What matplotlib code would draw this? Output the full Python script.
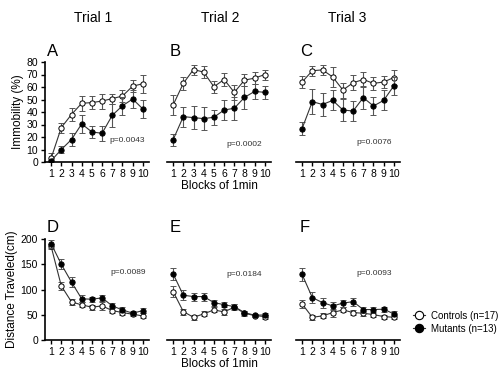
import numpy as np
import matplotlib
matplotlib.use("Agg")
import matplotlib.pyplot as plt
from matplotlib.lines import Line2D

plt.rcParams['font.family'] = ['Liberation Sans', 'DejaVu Sans']

blocks = np.arange(1, 11)

# Immobility (%) -- trials 1..3
imm_ctrl = [[3, 27.6, 38, 47, 47.5, 48.8, 50.7, 52.8, 60.7, 62.6],
            [45.6, 62.9, 74, 71.9, 60.2, 66, 55.7, 65.5, 67.1, 70],
            [64, 73, 73.7, 68, 57.6, 63.4, 66, 62.9, 64, 67.6]]
imm_ctrl_err = [[4, 4, 5, 6, 5, 6, 4, 5, 5, 7],
                [8, 5, 4, 5, 5, 5, 6, 5, 5, 4],
                [5, 4, 4, 8, 6, 6, 6, 5, 5, 6]]
imm_mut = [[1, 10, 18, 30.5, 24, 23, 37.4, 45, 50.4, 42.4],
           [17.8, 36.3, 35.5, 34.7, 35.8, 41.6, 43, 51.7, 56.5, 55.7],
           [26.8, 48.3, 46, 49.3, 41.6, 40.8, 51.5, 44.8, 49.3, 61]]
imm_mut_err = [[1, 3, 5, 7, 5, 6, 9, 7, 7, 7],
               [5, 8, 9, 9, 6, 8, 9, 9, 6, 5],
               [5, 10, 9, 8, 9, 8, 9, 7, 8, 7]]

# Distance traveled (cm) -- trials 1..3
dist_ctrl = [[185.4, 107, 75.5, 69.5, 65, 67.5, 58.3, 54.3, 51, 47.7],
             [96, 56.3, 45, 51.7, 59.6, 55.6, 65, 53, 48.3, 46.4],
             [71.5, 45, 47.7, 54.3, 59.6, 54.3, 53, 50.3, 46.4, 45]]
dist_ctrl_err = [[5, 8, 6, 5, 5, 8, 5, 4, 3, 5],
                 [10, 6, 5, 5, 5, 6, 6, 5, 3, 4],
                 [8, 5, 5, 8, 5, 5, 5, 4, 4, 4]]
dist_mut = [[190.7, 150, 114.6, 81.5, 80.8, 83.4, 67.5, 59.6, 53, 58.3],
            [131, 88.7, 86, 86, 74, 70, 66, 54.3, 49, 49.7],
            [129.8, 84, 74, 67.5, 73, 76, 60.3, 60.3, 61, 51.7]]
dist_mut_err = [[8, 10, 10, 7, 5, 6, 5, 5, 4, 5],
                [12, 10, 8, 8, 6, 5, 5, 4, 3, 4],
                [13, 11, 10, 8, 7, 8, 6, 5, 5, 5]]

imm_p = ['p=0.0043', 'p=0.0002', 'p=0.0076']
imm_p_pos = [(6.7, 16), (6.2, 13), (6.3, 14.4)]
dist_p = ['p=0.0089', 'p=0.0184', 'p=0.0093']
dist_p_pos = [(6.8, 131), (6.2, 127), (6.3, 129)]

W, H = 499, 377
fig = plt.figure(figsize=(W / 100, H / 100), dpi=100)

def px(x0, y_bottom, w, h):
    return [x0 / W, (H - y_bottom) / H, w / W, h / H]

top_left = [45, 167, 296]
axes_top = [fig.add_axes(px(x, 162, 104, 100)) for x in top_left]
axes_bot = [fig.add_axes(px(x, 340, 104, 101)) for x in top_left]

def draw(ax, ctrl, cerr, mut, merr, ylim, yticks, show_y):
    ax.errorbar(blocks, ctrl, yerr=cerr, color='#333333', ecolor='#555555',
                lw=0.8, elinewidth=0.8, capsize=2, capthick=0.8,
                marker='o', ms=3.8, mfc='white', mec='black', mew=0.7, zorder=3)
    ax.errorbar(blocks, mut, yerr=merr, color='#333333', ecolor='#555555',
                lw=0.8, elinewidth=0.8, capsize=2, capthick=0.8,
                marker='o', ms=3.8, mfc='black', mec='black', mew=0.7, zorder=4)
    ax.set_xlim(0.4, 10.6)
    ax.set_ylim(*ylim)
    ax.set_xticks(blocks)
    ax.tick_params(axis='both', direction='out', length=3, width=1.0,
                   labelsize=7.5, pad=2)
    for s in ['top', 'right']:
        ax.spines[s].set_visible(False)
    ax.spines['bottom'].set_linewidth(1.2)
    ax.spines['left'].set_linewidth(1.2)
    if show_y:
        ax.set_yticks(yticks)
    else:
        ax.spines['left'].set_visible(False)
        ax.set_yticks([])
    ax.patch.set_alpha(0)

for i in range(3):
    draw(axes_top[i], imm_ctrl[i], imm_ctrl_err[i], imm_mut[i], imm_mut_err[i],
         (0, 80), range(0, 81, 10), i == 0)
    axes_top[i].text(*imm_p_pos[i], imm_p[i], fontsize=6, color='#333333')
    draw(axes_bot[i], dist_ctrl[i], dist_ctrl_err[i], dist_mut[i], dist_mut_err[i],
         (0, 200), range(0, 201, 50), i == 0)
    axes_bot[i].text(*dist_p_pos[i], dist_p[i], fontsize=6, color='#333333')

axes_top[0].set_ylabel('Immobility (%)', fontsize=8.5, labelpad=2)
axes_bot[0].set_ylabel('Distance Traveled(cm)', fontsize=8.5, labelpad=2)
axes_top[1].set_xlabel('Blocks of 1min', fontsize=8.5, labelpad=1)
axes_bot[1].set_xlabel('Blocks of 1min', fontsize=8.5, labelpad=1)

for x, t in zip([93, 220, 347], ['Trial 1', 'Trial 2', 'Trial 3']):
    fig.text(x / W, 1 - 18 / H, t, fontsize=10, ha='center', va='center')

for (x, y), t in zip([(47, 56), (170, 56), (300, 56), (47, 232), (170, 232), (300, 232)],
                     'ABCDEF'):
    fig.text(x / W, 1 - y / H, t, fontsize=12, ha='left', va='baseline')

handles = [Line2D([], [], color='#333333', lw=0.8, marker='o', ms=6,
                  mfc='white', mec='black', mew=0.8),
           Line2D([], [], color='#333333', lw=0.8, marker='o', ms=6,
                  mfc='black', mec='black', mew=0.8)]
fig.legend(handles, ['Controls (n=17)', 'Mutants (n=13)'],
           loc='upper left', bbox_to_anchor=(408 / W, 1 - 306 / H),
           frameon=False, fontsize=7, handlelength=1.2, handletextpad=0.7,
           labelspacing=0.3, borderpad=0)

fig.savefig('out.png', dpi=100)
